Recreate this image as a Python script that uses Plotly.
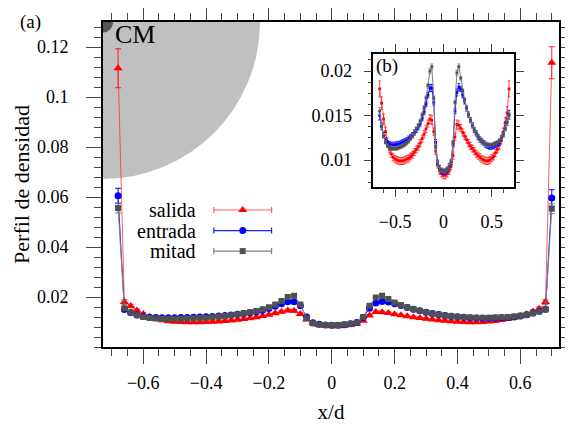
import plotly.graph_objects as go

# ---------------- data ----------------
x_d = [-0.68, -0.66, -0.64, -0.62, -0.60, -0.58, -0.56, -0.54, -0.52, -0.50,
       -0.48, -0.46, -0.44, -0.42, -0.40, -0.38, -0.36, -0.34, -0.32, -0.30,
       -0.28, -0.26, -0.24, -0.22, -0.20, -0.18, -0.16, -0.14, -0.12, -0.10,
       -0.08, -0.06, -0.04, -0.02, 0.00, 0.02, 0.04, 0.06, 0.08, 0.10,
       0.12, 0.14, 0.16, 0.18, 0.20, 0.22, 0.24, 0.26, 0.28, 0.30,
       0.32, 0.34, 0.36, 0.38, 0.40, 0.42, 0.44, 0.46, 0.48, 0.50,
       0.52, 0.54, 0.56, 0.58, 0.60, 0.62, 0.64, 0.66, 0.68, 0.70]

salida = [0.1115, 0.0180, 0.0164, 0.0146, 0.0132, 0.0120, 0.0112, 0.0107, 0.0103, 0.0101,
          0.0100, 0.0099, 0.0099, 0.0099, 0.0100, 0.0101, 0.0102, 0.0104, 0.0106, 0.0109,
          0.0112, 0.0115, 0.0119, 0.0124, 0.0129, 0.0135, 0.0141, 0.0146, 0.0145, 0.0132,
          0.0110, 0.0095, 0.0088, 0.0085, 0.0083, 0.0083, 0.0085, 0.0088, 0.0093, 0.0105,
          0.0126, 0.0140, 0.0139, 0.0136, 0.0131, 0.0127, 0.0123, 0.0119, 0.0116, 0.0113,
          0.0110, 0.0107, 0.0105, 0.0103, 0.0101, 0.0100, 0.0099, 0.0099, 0.0100, 0.0102,
          0.0104, 0.0108, 0.0112, 0.0117, 0.0123, 0.0131, 0.0142, 0.0153, 0.0180, 0.1137]

entrada = [0.0605, 0.0150, 0.0138, 0.0128, 0.0122, 0.0119, 0.0118, 0.0117, 0.0117, 0.0117,
           0.0118, 0.0118, 0.0119, 0.0120, 0.0121, 0.0122, 0.0124, 0.0126, 0.0128, 0.0131,
           0.0134, 0.0137, 0.0141, 0.0147, 0.0154, 0.0163, 0.0173, 0.0181, 0.0181, 0.0165,
           0.0120, 0.0097, 0.0091, 0.0088, 0.0087, 0.0087, 0.0089, 0.0093, 0.0098, 0.0118,
           0.0155, 0.0176, 0.0182, 0.0180, 0.0173, 0.0166, 0.0158, 0.0151, 0.0145, 0.0139,
           0.0134, 0.0130, 0.0126, 0.0123, 0.0121, 0.0119, 0.0117, 0.0116, 0.0115, 0.0115,
           0.0116, 0.0117, 0.0118, 0.0120, 0.0124, 0.0129, 0.0136, 0.0143, 0.0151, 0.0596]

mitad = [0.0556, 0.0155, 0.0138, 0.0127, 0.0120, 0.0116, 0.0114, 0.0113, 0.0113, 0.0113,
         0.0113, 0.0114, 0.0115, 0.0116, 0.0117, 0.0119, 0.0121, 0.0124, 0.0127, 0.0131,
         0.0135, 0.0139, 0.0144, 0.0151, 0.0159, 0.0170, 0.0184, 0.0200, 0.0205, 0.0170,
         0.0115, 0.0095, 0.0090, 0.0088, 0.0088, 0.0088, 0.0090, 0.0093, 0.0098, 0.0120,
         0.0165, 0.0198, 0.0205, 0.0192, 0.0178, 0.0168, 0.0159, 0.0151, 0.0145, 0.0139,
         0.0134, 0.0130, 0.0126, 0.0123, 0.0121, 0.0119, 0.0118, 0.0117, 0.0117, 0.0117,
         0.0118, 0.0119, 0.0120, 0.0122, 0.0125, 0.0129, 0.0135, 0.0142, 0.0150, 0.0553]

err_salida = [0.0078, 0.0009, 0.0007, 0.0006, 0.0005, 0.0005, 0.0004, 0.0004, 0.0004, 0.0004,
              0.0004, 0.0004, 0.0004, 0.0004, 0.0004, 0.0004, 0.0004, 0.0004, 0.0004, 0.0004,
              0.0004, 0.0004, 0.0004, 0.0004, 0.0004, 0.0004, 0.0004, 0.0005, 0.0005, 0.0004,
              0.0004, 0.0004, 0.0004, 0.0004, 0.0004, 0.0004, 0.0004, 0.0004, 0.0004, 0.0004,
              0.0004, 0.0005, 0.0005, 0.0004, 0.0004, 0.0004, 0.0004, 0.0004, 0.0004, 0.0004,
              0.0004, 0.0004, 0.0004, 0.0004, 0.0004, 0.0004, 0.0004, 0.0004, 0.0004, 0.0004,
              0.0004, 0.0004, 0.0004, 0.0005, 0.0005, 0.0005, 0.0006, 0.0007, 0.0009, 0.0064]

err_entrada = [0.0030, 0.0005, 0.0004, 0.0003, 0.0003, 0.0003, 0.0003, 0.0003, 0.0003, 0.0003,
               0.0003, 0.0003, 0.0003, 0.0003, 0.0003, 0.0003, 0.0003, 0.0003, 0.0003, 0.0003,
               0.0003, 0.0003, 0.0003, 0.0003, 0.0003, 0.0003, 0.0003, 0.0004, 0.0004, 0.0003,
               0.0003, 0.0003, 0.0003, 0.0003, 0.0003, 0.0003, 0.0003, 0.0003, 0.0003, 0.0003,
               0.0003, 0.0004, 0.0004, 0.0003, 0.0003, 0.0003, 0.0003, 0.0003, 0.0003, 0.0003,
               0.0003, 0.0003, 0.0003, 0.0003, 0.0003, 0.0003, 0.0003, 0.0003, 0.0003, 0.0003,
               0.0003, 0.0003, 0.0003, 0.0003, 0.0003, 0.0003, 0.0003, 0.0004, 0.0005, 0.0033]

err_mitad = [0.0020, 0.0004, 0.0003, 0.0002, 0.0002, 0.0002, 0.0002, 0.0002, 0.0002, 0.0002,
             0.0002, 0.0002, 0.0002, 0.0002, 0.0002, 0.0002, 0.0002, 0.0002, 0.0002, 0.0002,
             0.0002, 0.0002, 0.0002, 0.0002, 0.0002, 0.0002, 0.0002, 0.0003, 0.0003, 0.0002,
             0.0002, 0.0002, 0.0002, 0.0002, 0.0002, 0.0002, 0.0002, 0.0002, 0.0002, 0.0002,
             0.0002, 0.0003, 0.0003, 0.0002, 0.0002, 0.0002, 0.0002, 0.0002, 0.0002, 0.0002,
             0.0002, 0.0002, 0.0002, 0.0002, 0.0002, 0.0002, 0.0002, 0.0002, 0.0002, 0.0002,
             0.0002, 0.0002, 0.0002, 0.0002, 0.0002, 0.0002, 0.0002, 0.0003, 0.0004, 0.0020]

series_names = ["salida", "entrada", "mitad"]
series_values = [salida, entrada, mitad]
series_errors = [err_salida, err_entrada, err_mitad]

x_tickvals = [-0.6, -0.4, -0.2, 0.0, 0.2, 0.4, 0.6]
x_ticktext = ["\u22120.6", "\u22120.4", "\u22120.2", "0", "0.2", "0.4", "0.6"]
y_tickvals = [0.02, 0.04, 0.06, 0.08, 0.10, 0.12]
y_ticktext = ["0.02", "0.04", "0.06", "0.08", "0.1", "0.12"]
inset_x_tickvals = [-0.5, 0.0, 0.5]
inset_x_ticktext = ["\u22120.5", "0", "0.5"]
inset_y_tickvals = [0.01, 0.015, 0.02]
inset_y_ticktext = ["0.01", "0.015", "0.02"]

# ---------------- styling ----------------
FONT = "Liberation Serif"
X_RANGE = [-0.728, 0.723]
Y_RANGE = [0.0, 0.13]
INSET_X_RANGE = [-0.725, 0.73]
INSET_Y_RANGE = [0.007, 0.0219]

styles = {
    "salida": dict(marker="#ff0000", line="rgba(255,40,40,0.75)", err="rgba(255,0,0,0.85)",
                   symbol="triangle-up", size=8),
    "entrada": dict(marker="#0000ff", line="#2020ff", err="#0000ff",
                    symbol="circle", size=7),
    "mitad": dict(marker="#505050", line="#808080", err="#7a7a7a",
                  symbol="square", size=6),
}

fig = go.Figure()

# main panel
for name, vals, errs in zip(series_names, series_values, series_errors):
    s = styles[name]
    fig.add_trace(go.Scatter(
        x=x_d, y=vals, mode="lines+markers", name=name, showlegend=False,
        line=dict(color=s["line"], width=1),
        marker=dict(symbol=s["symbol"], size=s["size"], color=s["marker"], line=dict(width=0)),
        error_y=dict(type="data", array=errs, color=s["err"], thickness=1, width=3),
        xaxis="x", yaxis="y"))

# inset panel (interior points)
for name, vals, errs in zip(series_names, series_values, series_errors):
    s = styles[name]
    fig.add_trace(go.Scatter(
        x=x_d[1:-1], y=vals[1:-1], mode="lines+markers", name=name, showlegend=False,
        line=dict(color=s["line"], width=1),
        marker=dict(symbol="square", size=2.8, color=s["marker"], line=dict(width=0)),
        error_y=dict(type="data", array=errs[1:-1], color=s["err"], thickness=0.8, width=1.5),
        xaxis="x2", yaxis="y2"))

# custom legend (text left of sample, gnuplot style) on a hidden overlay axis
LEG_X = 0.3064
LEG_HALF = 0.0633
LEG_TEXT_X = 0.208
LEG_Y0 = 0.4215
LEG_DY = 0.0632
for i, name in enumerate(series_names):
    s = styles[name]
    yy = LEG_Y0 - i * LEG_DY
    fig.add_trace(go.Scatter(
        x=[LEG_X], y=[yy], mode="markers", showlegend=False, hoverinfo="skip",
        marker=dict(symbol=s["symbol"], size=s["size"], color=s["marker"]),
        error_x=dict(type="constant", value=LEG_HALF, color=s["line"], thickness=1.2, width=3),
        xaxis="x3", yaxis="y3"))

tick_common = dict(ticks="outside", tickcolor="#444", showline=True, linecolor="black",
                   mirror="allticks", showgrid=False, zeroline=False, automargin=False,
                   tickfont=dict(family=FONT, size=18, color="black"))

# the page body adds an 8px offset, so the figure is 8px smaller than the window
fig.update_layout(
    template="none",
    width=565, height=417,
    margin=dict(l=95, r=14, t=14, b=78, pad=0),
    paper_bgcolor="white", plot_bgcolor="white",
    font=dict(family=FONT, color="black"),
    showlegend=False,
    xaxis=dict(domain=[0, 1], range=X_RANGE, anchor="y",
               tickmode="array", tickvals=x_tickvals, ticktext=x_ticktext,
               ticklen=15, tickwidth=1.3, linewidth=2, ticklabelstandoff=3,
               minor=dict(tickmode="linear", tick0=0, dtick=0.05, ticks="outside",
                          ticklen=7, tickwidth=1.3, tickcolor="#444"),
               title=dict(text="x/d", font=dict(family=FONT, size=21), standoff=13),
               **tick_common),
    yaxis=dict(domain=[0, 1], range=Y_RANGE, anchor="x",
               tickmode="array", tickvals=y_tickvals, ticktext=y_ticktext,
               ticklen=15, tickwidth=1.3, linewidth=2, ticklabelstandoff=14,
               minor=dict(tickmode="linear", tick0=0, dtick=0.004, ticks="outside",
                          ticklen=7, tickwidth=1.3, tickcolor="#444"),
               title=dict(text="Perfil de densidad", font=dict(family=FONT, size=22), standoff=1),
               **tick_common),
    xaxis2=dict(domain=[0.593, 0.901], range=INSET_X_RANGE, anchor="y2",
                tickmode="array", tickvals=inset_x_tickvals, ticktext=inset_x_ticktext,
                ticklen=8, tickwidth=1.2, linewidth=1.5, ticklabelstandoff=10,
                minor=dict(tickmode="linear", tick0=0, dtick=0.125, ticks="outside",
                           ticklen=4, tickwidth=1.2, tickcolor="#444"),
                **tick_common),
    yaxis2=dict(domain=[0.493, 0.901], range=INSET_Y_RANGE, anchor="x2",
                tickmode="array", tickvals=inset_y_tickvals, ticktext=inset_y_ticktext,
                ticklen=8, tickwidth=1.2, linewidth=1.5, ticklabelstandoff=8,
                minor=dict(tickmode="linear", tick0=0, dtick=0.00125, ticks="outside",
                           ticklen=4, tickwidth=1.2, tickcolor="#444"),
                **tick_common),
    xaxis3=dict(overlaying="x", range=[0, 1], visible=False, fixedrange=True, automargin=False),
    yaxis3=dict(overlaying="y", range=[0, 1], visible=False, fixedrange=True, automargin=False),
)

# grey quarter disc (CM region) at top-left corner, clipped by the main axes
R_X = 0.4995
R_Y = 0.0628
fig.add_shape(type="circle", xref="x", yref="y", layer="below",
              x0=X_RANGE[0] - R_X, x1=X_RANGE[0] + R_X,
              y0=Y_RANGE[1] - R_Y, y1=Y_RANGE[1] + R_Y,
              fillcolor="#c0c0c0", line=dict(width=0))
r_x_small = 0.032
r_y_small = 0.0042
fig.add_shape(type="circle", xref="x", yref="y", layer="below",
              x0=X_RANGE[0] - r_x_small, x1=X_RANGE[0] + r_x_small,
              y0=Y_RANGE[1] - r_y_small, y1=Y_RANGE[1] + r_y_small,
              fillcolor="#555555", line=dict(width=0))

ann_font = dict(family=FONT, size=19, color="black")
fig.add_annotation(text="CM", xref="paper", yref="paper", x=0.071, y=0.963,
                   xanchor="center", yanchor="middle", showarrow=False,
                   font=dict(family=FONT, size=26, color="black"))
fig.add_annotation(text="(a)", xref="paper", yref="paper", x=-0.158, y=1.0,
                   xanchor="center", yanchor="middle", showarrow=False, font=ann_font)
fig.add_annotation(text="(b)", xref="paper", yref="paper", x=0.623, y=0.865,
                   xanchor="center", yanchor="middle", showarrow=False, font=ann_font)
for i, name in enumerate(series_names):
    fig.add_annotation(text=name, xref="paper", yref="paper", x=LEG_TEXT_X,
                       y=LEG_Y0 - i * LEG_DY, xanchor="right", yanchor="middle",
                       showarrow=False, font=dict(family=FONT, size=20, color="black"))

fig.write_html("out.html")
